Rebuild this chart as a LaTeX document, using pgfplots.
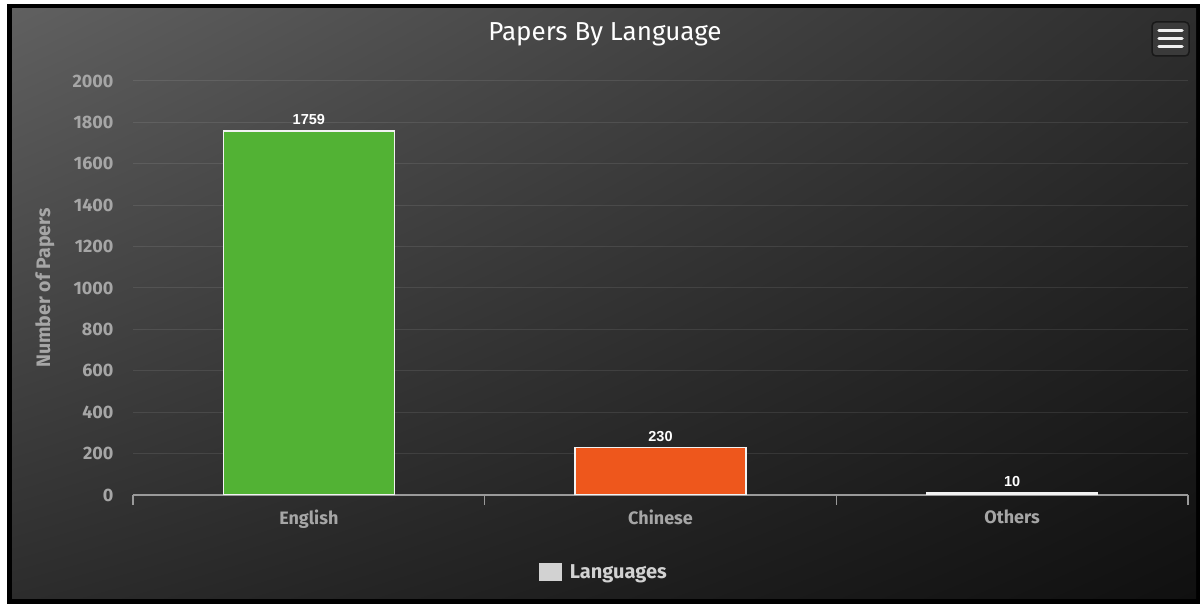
\documentclass[border=0pt]{standalone}
\usepackage{fontspec}
\setmainfont{Fira Sans}
\newfontfamily\dlfont{Liberation Sans}
\usepackage{pgfplots}
\pgfplotsset{compat=1.18}
\usetikzlibrary{shadings}
\definecolor{cgreen}{HTML}{52B234}
\definecolor{corange}{HTML}{EE571C}
\definecolor{cother}{HTML}{D8D8D0}
\definecolor{labgray}{HTML}{A6A6A6}
\definecolor{leggray}{HTML}{D2D2D2}
\definecolor{axgray}{HTML}{9A9A9A}
\begin{document}
\begin{tikzpicture}[x=1bp,y=1bp]
% page and frame
\fill[white] (0,0) rectangle (1202,606);
\fill[black] (7,2) rectangle (1200,602);
\shade[upper left={rgb,255:red,96;green,96;blue,96},
       upper right={rgb,255:red,46;green,46;blue,46},
       lower left={rgb,255:red,44;green,44;blue,44},
       lower right={rgb,255:red,16;green,16;blue,16}]
  (12,7) rectangle (1196,597);
% title
\node[white, font=\fontsize{26bp}{30bp}\selectfont] at (605,572) {Papers By Language};
% y label
\node[labgray, rotate=90, font=\bfseries\fontsize{19.5bp}{22bp}\selectfont] at (45,318) {Number of Papers};
% menu button
\draw[black!90, fill={rgb,255:red,58;green,58;blue,58}, line width=1.5bp, rounded corners=4bp] (1152,550) rectangle (1189,584);
\foreach \yy in {575.5,567.5,559.5}{
  \draw[white!88!gray, line width=3.5bp, line cap=round] (1159,\yy) -- (1182,\yy);
}
\begin{axis}[
  at={(133bp,111bp)}, anchor=south west,
  scale only axis, width=1055bp, height=414bp,
  xmin=-0.5, xmax=2.5, ymin=0, ymax=2000,
  ytick={0,200,...,2000},
  xtick={0,1,2}, xticklabels={English,Chinese,Others},
  minor xtick={-0.5,0.5,1.5,2.5},
  ymajorgrids, grid style={white, opacity=0.09, line width=1bp},
  axis x line*=bottom, axis y line*=left,
  y axis line style={draw=none},
  x axis line style={axgray, line width=1.3bp, -},
  major tick length=0pt, minor tick length=10bp, tick align=outside,
  minor tick style={axgray, line width=1.3bp},
  major tick style={draw=none},
  /pgf/number format/assume math mode=true,
  /pgf/number format/1000 sep={},
  yticklabel style={labgray, font=\bfseries\fontsize{18bp}{21bp}\selectfont, anchor=east, xshift=-16bp},
  xticklabel style={labgray, font=\bfseries\fontsize{18bp}{21bp}\selectfont, yshift=-11bp},
  ybar, bar width=171bp, bar shift=0pt,
  nodes near coords,
  nodes near coords style={white, font=\dlfont\bfseries\fontsize{14.5bp}{17bp}\selectfont, anchor=south, yshift=2bp},
  legend style={at={(0.4465,-0.186)}, anchor=center, draw=none, fill=none,
     text=leggray, font=\bfseries\fontsize{20bp}{23bp}\selectfont},
  legend image code/.code={\fill[leggray] (0bp,-8.5bp) rectangle (22bp,8.5bp); \path (28bp,0bp);},
]
\addlegendimage{leggray}
\addlegendentry{Languages}
\addplot[forget plot, fill=cgreen, draw=white!90!gray, line width=1.5bp] coordinates {(0,1759)};
\addplot[forget plot, fill=corange, draw=white!90!gray, line width=1.5bp] coordinates {(1,230)};
\addplot[forget plot, fill=cother, draw=white!90!gray, line width=1.5bp] coordinates {(2,10)};
\end{axis}
\end{tikzpicture}
\end{document}
